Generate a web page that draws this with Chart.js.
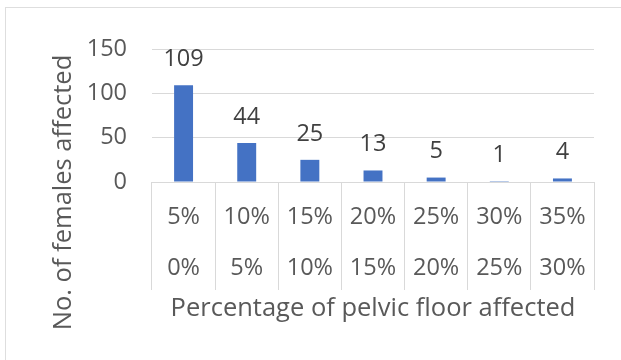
<!DOCTYPE html>
<html>
<head>
<meta charset="utf-8">
<script src="https://cdn.jsdelivr.net/npm/chart.js@4/dist/chart.umd.min.js"></script>
<style>
  html, body { margin: 0; padding: 0; background: #ffffff; overflow: hidden; }
  #frame {
    position: absolute; left: 5px; top: 7px; width: 700px; height: 500px;
    border: 1.5px solid #dedede; box-sizing: border-box;
  }
  #wrap { position: absolute; left: 0; top: 0; width: 621px; height: 360px; }
</style>
</head>
<body>
<div id="frame"></div>
<div id="wrap"><canvas id="chart" width="621" height="360"></canvas></div>
<script>
// Two-level category labels: upper bound on the first row, lower bound on the second
const upperBounds = ['5%', '10%', '15%', '20%', '25%', '30%', '35%'];
const lowerBounds = ['0%', '5%', '10%', '15%', '20%', '25%', '30%'];
const femalesAffected = [109, 44, 25, 13, 5, 1, 4];
const yTicks = [0, 50, 100, 150];

const xTitle = 'Percentage of pelvic floor affected';
const yTitle = 'No. of females affected';

const FONT = '"Open Sans", "Noto Sans", sans-serif';
const TEXT = '#595959';
const GRID = '#d9d9d9';

const categories = upperBounds.map((u, i) => [u, lowerBounds[i]]);

// Value labels above each bar, placed from the bar elements themselves
const valueLabels = {
  id: 'valueLabels',
  afterDatasetsDraw(chart) {
    const ctx = chart.ctx;
    const meta = chart.getDatasetMeta(0);
    const data = chart.data.datasets[0].data;
    ctx.save();
    ctx.font = '23.5px ' + FONT;
    ctx.fillStyle = '#404040';
    ctx.textAlign = 'center';
    ctx.textBaseline = 'middle';
    meta.data.forEach((bar, i) => {
      ctx.fillText(String(data[i]), bar.x, bar.y - 26);
    });
    ctx.restore();
  }
};

// Vertical axis title, centred over the plot plus the category table
const sideTitle = {
  id: 'sideTitle',
  afterDraw(chart) {
    const ctx = chart.ctx;
    const y = (chart.chartArea.top + chart.scales.x.bottom) / 2;
    ctx.save();
    ctx.translate(chart.scales.y.left + 64, y);
    ctx.rotate(-Math.PI / 2);
    ctx.font = '25.5px ' + FONT;
    ctx.fillStyle = TEXT;
    ctx.textAlign = 'center';
    ctx.textBaseline = 'middle';
    ctx.fillText(yTitle, 0, 0);
    ctx.restore();
  }
};

new Chart(document.getElementById('chart'), {
  type: 'bar',
  data: {
    labels: categories,
    datasets: [{
      data: femalesAffected,
      backgroundColor: '#4472c4',
      borderWidth: 0,
      barPercentage: 0.3,
      categoryPercentage: 1
    }]
  },
  options: {
    responsive: false,
    animation: false,
    devicePixelRatio: 1,
    layout: { padding: { top: 49, left: 0, right: 27, bottom: 24 } },
    plugins: {
      legend: { display: false },
      tooltip: { enabled: false }
    },
    scales: {
      x: {
        offset: true,
        border: { display: false },
        grid: {
          offset: true,
          drawOnChartArea: false,
          drawTicks: true,
          tickLength: 108,
          color: GRID,
          lineWidth: 1
        },
        ticks: {
          autoSkip: false,
          maxRotation: 0,
          minRotation: 0,
          padding: -98.5,
          color: TEXT,
          font: { family: FONT, size: 23.5, lineHeight: 2.17 }
        },
        title: {
          display: true,
          text: xTitle,
          color: TEXT,
          font: { family: FONT, size: 25.5 },
          padding: { top: 0, bottom: 12 }
        },
        afterFit(scale) { scale.height = 154; }
      },
      y: {
        min: 0,
        max: 150,
        border: { display: false },
        grid: { color: GRID, lineWidth: 1, drawTicks: false },
        afterBuildTicks(scale) { scale.ticks = yTicks.map(v => ({ value: v })); },
        ticks: {
          padding: 25,
          color: TEXT,
          font: { family: FONT, size: 23.5 }
        },
        afterFit(scale) { scale.width = 152; }
      }
    }
  },
  plugins: [valueLabels, sideTitle]
});
</script>
</body>
</html>
